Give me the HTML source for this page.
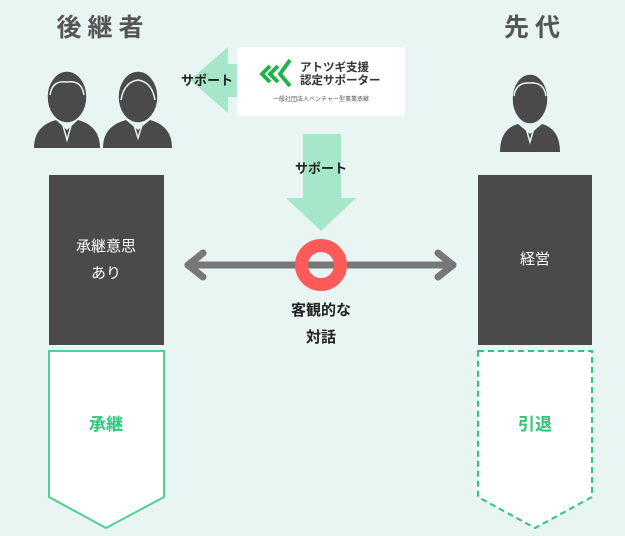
<!DOCTYPE html>
<html><head><meta charset="utf-8"><style>
html,body{margin:0;padding:0;background:#e8f5f2;}
svg{display:block;font-family:"Liberation Sans","Noto Sans CJK JP",sans-serif;}
</style></head><body>
<svg width="625" height="536" viewBox="0 0 625 536" xmlns="http://www.w3.org/2000/svg">
<rect width="625" height="536" fill="#e8f5f2"/>
<text x="103" y="36" font-size="25" font-weight="bold" fill="#555" text-anchor="middle" letter-spacing="6">後継者</text>
<text x="535" y="36" font-size="25" font-weight="bold" fill="#555" text-anchor="middle" letter-spacing="6">先代</text>
<!-- people -->
<g fill="#4a4a4a">
 <path d="M34 148 Q34 126 56 120 L67 130 L78 120 Q100 126 100 148 Z"/>
 <path d="M103 148 Q103 126 126 120 L138 130 L150 120 Q172 126 172 148 Z"/>
 <path d="M500 152 Q500 129 518 124 L530 134 L542 124 Q560 129 560 152 Z"/>
</g>
<g fill="#4a4a4a" stroke="#e8f5f2" stroke-width="1.5">
 <ellipse cx="67" cy="97" rx="20" ry="26"/>
 <ellipse cx="138" cy="97" rx="20" ry="26"/>
 <ellipse cx="530" cy="99" rx="18" ry="25"/>
</g>
<g fill="none" stroke="#e8f5f2" stroke-width="1.5">
 <path d="M50 95 Q52 80 67 82 Q82 80 84 95"/>
 <path d="M121 100 Q124 82 138 80 Q152 82 155 100"/>
 <path d="M514 96 Q516 82 530 83 Q544 82 546 96"/>
 <path d="M62 122 L67 140 L72 122"/>
 <path d="M133 122 L138 138 L143 122"/>
 <path d="M525 125 L530 142 L535 125"/>
</g>
<!-- left arrow -->
<path d="M190 80 L228 47 L228 64 L240 64 L240 97 L228 97 L228 113 Z" fill="#a6e6c9"/>
<text x="207" y="85" font-size="13" font-weight="bold" fill="#222" text-anchor="middle">サポート</text>
<!-- logo box -->
<rect x="237" y="47" width="168" height="69" fill="#fff"/>
<g fill="none" stroke="#22b24c" stroke-width="4">
 <path d="M270 66 L262 74 L270 82"/><path d="M278 66 L270 74 L278 82"/><path d="M290 60 L280 74 L290 86"/>
</g>
<text x="300" y="71" font-size="11.5" font-weight="bold" fill="#333">アトツギ支援</text>
<text x="300" y="84" font-size="11.5" font-weight="bold" fill="#333">認定サポーター</text>
<text x="321" y="101" font-size="6" fill="#555" text-anchor="middle">一般社団法人ベンチャー型事業承継</text>
<!-- down arrow -->
<path d="M303 134 L341 134 L341 198 L356 198 L321 231 L286 198 L303 198 Z" fill="#a6e6c9"/>
<text x="321" y="173" font-size="13" font-weight="bold" fill="#222" text-anchor="middle">サポート</text>
<!-- dark boxes -->
<rect x="49" y="175" width="115" height="170" fill="#4a4a4a"/>
<rect x="478" y="175" width="114" height="170" fill="#4a4a4a"/>
<text x="106" y="251" font-size="15" fill="#fff" text-anchor="middle">承継意思</text>
<text x="106" y="278" font-size="15" fill="#fff" text-anchor="middle">あり</text>
<text x="535" y="264" font-size="15" fill="#fff" text-anchor="middle">経営</text>
<!-- double arrow -->
<g stroke="#777" stroke-width="7" fill="none" stroke-linecap="round" stroke-linejoin="round">
 <line x1="188" y1="265" x2="453" y2="265"/>
 <path d="M203 253 L188 265 L203 277"/>
 <path d="M438 253 L453 265 L438 277"/>
</g>
<circle cx="321" cy="265" r="19.5" fill="none" stroke="#ff5a5a" stroke-width="13"/>
<text x="321" y="315" font-size="15" font-weight="bold" fill="#222" text-anchor="middle">客観的な</text>
<text x="321" y="342" font-size="15" font-weight="bold" fill="#222" text-anchor="middle">対話</text>
<!-- pentagons -->
<path d="M49 351 L164 351 L164 497 L106 528 L49 497 Z" fill="#fff" stroke="#4fd18f" stroke-width="2"/>
<path d="M478 351 L592 351 L592 497 L535 528 L478 497 Z" fill="#fff" stroke="#2fc57a" stroke-width="2" stroke-dasharray="6,4"/>
<text x="106" y="430" font-size="17" font-weight="bold" fill="#2fc57a" text-anchor="middle">承継</text>
<text x="535" y="430" font-size="17" font-weight="bold" fill="#2fc57a" text-anchor="middle">引退</text>
</svg>
</body></html>
